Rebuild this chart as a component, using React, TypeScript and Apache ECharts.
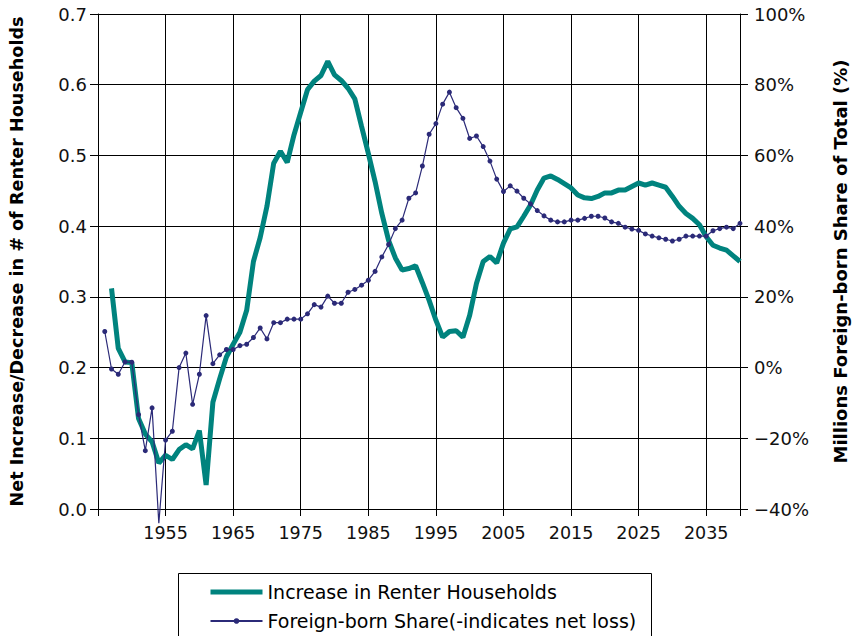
import React, { useEffect, useRef } from "react";
import * as echarts from "echarts";

const years = [
  1946, 1947, 1948, 1949, 1950, 1951, 1952, 1953, 1954, 1955,
  1956, 1957, 1958, 1959, 1960, 1961, 1962, 1963, 1964, 1965,
  1966, 1967, 1968, 1969, 1970, 1971, 1972, 1973, 1974, 1975,
  1976, 1977, 1978, 1979, 1980, 1981, 1982, 1983, 1984, 1985,
  1986, 1987, 1988, 1989, 1990, 1991, 1992, 1993, 1994, 1995,
  1996, 1997, 1998, 1999, 2000, 2001, 2002, 2003, 2004, 2005,
  2006, 2007, 2008, 2009, 2010, 2011, 2012, 2013, 2014, 2015,
  2016, 2017, 2018, 2019, 2020, 2021, 2022, 2023, 2024, 2025,
  2026, 2027, 2028, 2029, 2030, 2031, 2032, 2033, 2034, 2035,
  2036, 2037, 2038, 2039, 2040,
];

const renterIncrease: (number | null)[] = [
  null, 0.312, 0.227, 0.208, 0.207, 0.128, 0.106, 0.095, 0.065, 0.076,
  0.070, 0.084, 0.091, 0.085, 0.111, 0.034, 0.151, 0.184, 0.215, 0.233,
  0.250, 0.281, 0.350, 0.384, 0.428, 0.489, 0.506, 0.490, 0.529, 0.561,
  0.593, 0.605, 0.613, 0.633, 0.614, 0.606, 0.595, 0.580, 0.541, 0.503,
  0.463, 0.418, 0.380, 0.355, 0.338, 0.340, 0.344, 0.320, 0.295, 0.267,
  0.243, 0.251, 0.252, 0.243, 0.274, 0.319, 0.350, 0.357, 0.348, 0.376,
  0.396, 0.399, 0.414, 0.430, 0.451, 0.468, 0.471, 0.466, 0.460, 0.454,
  0.444, 0.440, 0.439, 0.442, 0.447, 0.447, 0.451, 0.451, 0.456, 0.461,
  0.458, 0.461, 0.458, 0.455, 0.442, 0.428, 0.418, 0.411, 0.402, 0.385,
  0.373, 0.369, 0.366, 0.358, 0.350,
];

const foreignShare = [
  10.2, -0.4, -1.9, 1.6, 1.5, -13.3, -23.5, -11.4, -44, -20.5,
  -18.0, 0, 4.1, -10.4, -1.9, 14.7, 1.1, 3.6, 5.1, 5.1,
  6.2, 6.6, 8.5, 11.2, 8.1, 12.7, 12.7, 13.7, 13.7, 13.7,
  15.2, 17.8, 17.1, 20.2, 18.2, 18.2, 21.3, 22.1, 23.3, 24.7,
  27.2, 31.3, 34.8, 39.3, 41.7, 47.9, 49.4, 57.0, 66.0, 69.0,
  74.5, 77.9, 73.5, 70.5, 64.8, 65.5, 62.5, 58.4, 53.3, 49.8,
  51.4, 49.9, 47.9, 46.3, 44.4, 42.9, 41.7, 41.2, 41.2, 41.7,
  41.7, 42.2, 42.8, 42.8, 42.3, 41.2, 40.8, 39.7, 39.2, 38.8,
  37.8, 37.2, 36.7, 36.3, 35.8, 36.3, 37.2, 37.2, 37.2, 37.2,
  38.7, 39.3, 39.7, 39.3, 40.8,
];

const leftTicks = { min: 0, max: 0.7, interval: 0.1 };
const rightTicks = { min: -40, max: 100, interval: 20 };

const FONT = '"DejaVu Sans", "Liberation Sans", Arial, sans-serif';
const GREEN = "#00837e";
const NAVY = "#2b2a78";
const RENTER_NAME = "Increase in Renter Households";
const SHARE_NAME = "Foreign-born Share(-indicates net loss)";

export default function App() {
  const ref = useRef<HTMLDivElement>(null);
  useEffect(() => {
    if (!ref.current) return;
    const chart = echarts.init(ref.current, undefined, { renderer: "svg" });
    const renterData = years.map((y, i) => [y, renterIncrease[i]]);
    const shareData = years.map((y, i) => {
      const v = foreignShare[i];
      if (v < rightTicks.min) {
        return { value: [y, v], symbol: "none" };
      }
      return { value: [y, v] };
    });
    chart.setOption({
      animation: false,
      textStyle: { fontFamily: FONT },
      grid: { left: 90, right: 105, top: 14, bottom: 127, containLabel: false },
      xAxis: {
        type: "value",
        min: 1945,
        max: 2040,
        interval: 10,
        axisLine: { show: true, lineStyle: { color: "#000", width: 1 } },
        axisTick: { show: true, length: 7, lineStyle: { color: "#000" } },
        axisLabel: {
          margin: 15,
          fontSize: 17.5,
          color: "#111",
          fontFamily: FONT,
          formatter: (v: number) => (v === 1945 || v === 2040 ? "" : String(v)),
        },
        splitLine: { show: true, lineStyle: { color: "#000", width: 1 } },
      },
      yAxis: [
        {
          type: "value",
          min: leftTicks.min,
          max: leftTicks.max,
          interval: leftTicks.interval,
          position: "left",
          name: "Net Increase/Decrease in # of Renter Households",
          nameLocation: "middle",
          nameGap: 72,
          nameTextStyle: { fontSize: 17.6, fontWeight: "bold", color: "#000", fontFamily: FONT },
          axisLine: { show: true, lineStyle: { color: "#000", width: 1 } },
          axisTick: { show: true, length: 8, lineStyle: { color: "#000" } },
          axisLabel: {
            margin: 11,
            fontSize: 18,
            color: "#111",
            fontFamily: FONT,
            formatter: (v: number) => v.toFixed(1),
          },
          splitLine: { show: true, lineStyle: { color: "#000", width: 1 } },
        },
        {
          type: "value",
          min: rightTicks.min,
          max: rightTicks.max,
          interval: rightTicks.interval,
          position: "right",
          name: "Millions Foreign-born Share of Total (%)",
          nameLocation: "middle",
          nameGap: 91,
          nameRotate: 90,
          nameTextStyle: { fontSize: 18, fontWeight: "bold", color: "#000", fontFamily: FONT },
          axisLine: { show: true, lineStyle: { color: "#000", width: 1 } },
          axisTick: { show: true, length: 8, lineStyle: { color: "#000" } },
          axisLabel: {
            margin: 14,
            fontSize: 18,
            color: "#111",
            fontFamily: FONT,
            formatter: (v: number) => (v < 0 ? "\u2212" + Math.abs(v) + "%" : v + "%"),
          },
          splitLine: { show: false },
        },
      ],
      legend: {
        orient: "vertical",
        left: 208,
        top: 582,
        itemWidth: 52,
        itemHeight: 7,
        itemGap: 9,
        padding: 0,
        textStyle: { fontSize: 19, color: "#000", fontFamily: FONT, lineHeight: 20 },
        data: [
          { name: RENTER_NAME, itemStyle: { opacity: 0 }, lineStyle: { width: 5, color: GREEN } },
          { name: SHARE_NAME },
        ],
      },
      graphic: [
        {
          type: "rect",
          shape: { x: 178.5, y: 573.5, width: 473, height: 80 },
          style: { fill: "none", stroke: "#000", lineWidth: 1 },
          silent: true,
        },
      ],
      series: [
        {
          name: RENTER_NAME,
          type: "line",
          yAxisIndex: 0,
          data: renterData,
          showSymbol: false,
          symbol: "none",
          connectNulls: false,
          lineStyle: { color: GREEN, width: 5 },
          itemStyle: { color: GREEN },
          z: 3,
        },
        {
          name: SHARE_NAME,
          type: "line",
          yAxisIndex: 1,
          data: shareData,
          symbol: "circle",
          symbolSize: 5,
          showAllSymbol: true,
          clip: false,
          lineStyle: { color: NAVY, width: 1.2 },
          itemStyle: { color: NAVY },
          z: 4,
        },
      ],
    });
    return () => chart.dispose();
  }, []);
  return <div ref={ref} style={{ width: 857, height: 636, position: "absolute", left: 0, top: 0, background: "#fff" }} />;
}
